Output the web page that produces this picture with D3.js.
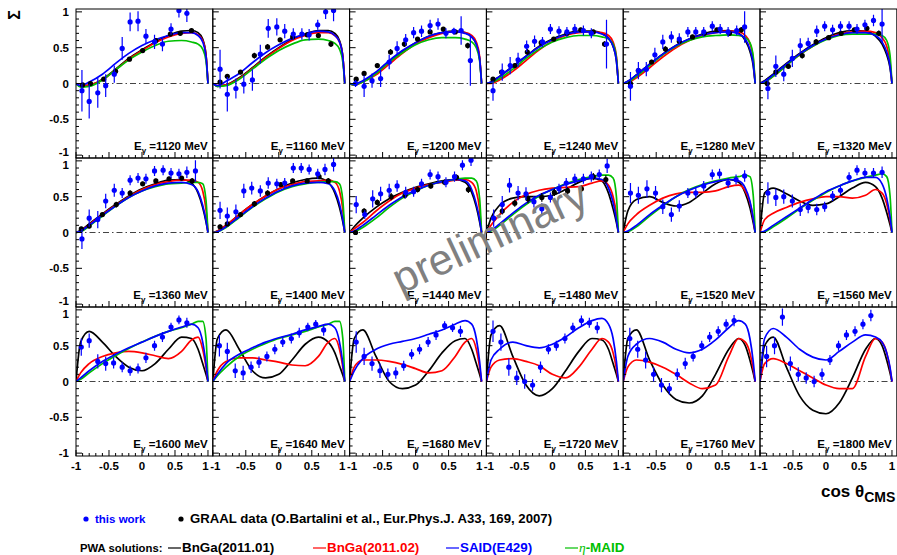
<!DOCTYPE html>
<html><head><meta charset="utf-8">
<script src="https://cdn.jsdelivr.net/npm/d3@7"></script>
<style>body{margin:0;background:#fff}svg{display:block;font-family:"Liberation Sans",Arial,sans-serif;font-weight:bold}</style>
</head><body><svg id="chart" width="897" height="555"></svg>
<script>
const energies = [1120,1160,1200,1240,1280,1320,1360,1400,1440,1480,1520,1560,1600,1640,1680,1720,1760,1800];
const curveX = [-1,-0.93,-0.8,-0.6,-0.4,-0.2,0,0.2,0.4,0.6,0.75,0.85,0.92,0.97,1];
const bnga1 = [
 [0,-0.04,-0.03,0.06,0.2,0.35,0.47,0.58,0.67,0.73,0.74,0.71,0.62,0.4,0],
 [0,-0.04,-0.02,0.08,0.22,0.37,0.5,0.61,0.69,0.74,0.74,0.7,0.6,0.38,0],
 [0,-0.02,0.03,0.14,0.3,0.45,0.57,0.66,0.71,0.73,0.71,0.65,0.55,0.35,0],
 [0,0.02,0.1,0.24,0.38,0.52,0.62,0.69,0.73,0.73,0.7,0.63,0.52,0.32,0],
 [0,0.03,0.12,0.27,0.41,0.53,0.62,0.69,0.73,0.74,0.7,0.6,0.45,0.25,0],
 [0,0.04,0.13,0.28,0.42,0.54,0.64,0.71,0.74,0.73,0.66,0.55,0.4,0.22,0],
 [0,0.03,0.12,0.26,0.39,0.51,0.61,0.68,0.73,0.74,0.69,0.55,0.35,0.15,0],
 [0,0.02,0.1,0.25,0.39,0.51,0.61,0.69,0.74,0.76,0.7,0.55,0.35,0.15,0],
 [0,0.08,0.2,0.35,0.47,0.56,0.63,0.68,0.72,0.74,0.7,0.56,0.36,0.15,0],
 [0,0.2,0.38,0.48,0.5,0.5,0.52,0.6,0.7,0.76,0.72,0.55,0.33,0.14,0],
 [0,0.3,0.46,0.5,0.42,0.37,0.42,0.55,0.68,0.74,0.7,0.55,0.35,0.14,0],
 [0,0.55,0.62,0.54,0.44,0.38,0.4,0.5,0.62,0.7,0.64,0.48,0.28,0.11,0],
 [0,0.55,0.7,0.55,0.35,0.2,0.15,0.25,0.45,0.62,0.6,0.45,0.25,0.1,0],
 [0,0.6,0.72,0.45,0.15,0.05,0.1,0.3,0.52,0.62,0.55,0.4,0.22,0.09,0],
 [0,0.6,0.72,0.35,0.0,-0.1,-0.05,0.15,0.4,0.57,0.6,0.45,0.25,0.1,0],
 [0,0.65,0.78,0.35,-0.05,-0.2,-0.1,0.15,0.42,0.6,0.58,0.45,0.25,0.1,0],
 [0,0.6,0.72,0.3,-0.05,-0.25,-0.3,-0.2,0.1,0.45,0.6,0.5,0.3,0.12,0],
 [0,0.5,0.62,0.2,-0.2,-0.4,-0.45,-0.3,0.05,0.45,0.6,0.5,0.3,0.12,0]
];
const bnga2 = [
 [0,-0.03,-0.02,0.05,0.19,0.34,0.46,0.57,0.65,0.7,0.71,0.68,0.6,0.4,0],
 [0,-0.03,-0.02,0.07,0.21,0.36,0.49,0.6,0.67,0.71,0.71,0.67,0.58,0.38,0],
 [0,-0.02,0.02,0.12,0.27,0.42,0.55,0.64,0.7,0.72,0.71,0.67,0.58,0.38,0],
 [0,0,0.05,0.17,0.32,0.47,0.59,0.67,0.71,0.72,0.71,0.67,0.58,0.38,0],
 [0,0.01,0.08,0.22,0.37,0.5,0.6,0.67,0.71,0.73,0.72,0.67,0.56,0.35,0],
 [0,0.02,0.1,0.25,0.4,0.52,0.62,0.69,0.72,0.73,0.71,0.64,0.52,0.3,0],
 [0,0.02,0.11,0.25,0.38,0.5,0.6,0.67,0.71,0.73,0.73,0.7,0.58,0.32,0],
 [0,0.02,0.1,0.25,0.39,0.51,0.61,0.67,0.71,0.72,0.73,0.7,0.58,0.32,0],
 [0,0.05,0.14,0.3,0.44,0.55,0.62,0.67,0.7,0.73,0.74,0.7,0.58,0.32,0],
 [0,0.1,0.25,0.42,0.53,0.59,0.62,0.63,0.64,0.69,0.72,0.66,0.5,0.26,0],
 [0,0.12,0.25,0.38,0.48,0.54,0.56,0.56,0.58,0.64,0.66,0.58,0.42,0.2,0],
 [0,0.18,0.27,0.35,0.42,0.47,0.5,0.5,0.48,0.52,0.6,0.55,0.4,0.18,0],
 [0,0.12,0.25,0.35,0.4,0.42,0.4,0.36,0.32,0.42,0.58,0.62,0.45,0.2,0],
 [0,0.15,0.28,0.33,0.33,0.3,0.27,0.23,0.22,0.35,0.55,0.6,0.45,0.2,0],
 [0,0.2,0.3,0.3,0.28,0.24,0.18,0.12,0.15,0.35,0.55,0.6,0.45,0.2,0],
 [0,0.2,0.3,0.32,0.28,0.22,0.1,0.05,0.2,0.45,0.6,0.55,0.4,0.18,0],
 [0,0.2,0.3,0.27,0.2,0.1,-0.02,-0.1,-0.05,0.35,0.6,0.55,0.4,0.18,0],
 [0,0.25,0.32,0.25,0.15,0.05,-0.05,-0.1,-0.1,0.35,0.6,0.55,0.4,0.18,0]
];
const said = [
 [0,-0.03,0.02,0.13,0.28,0.42,0.53,0.61,0.67,0.71,0.71,0.67,0.58,0.38,0],
 [0,-0.03,0.03,0.14,0.29,0.43,0.54,0.63,0.69,0.73,0.72,0.67,0.58,0.37,0],
 [0,-0.01,0.04,0.16,0.32,0.46,0.57,0.66,0.71,0.72,0.7,0.65,0.55,0.35,0],
 [0,0.02,0.1,0.24,0.38,0.51,0.61,0.68,0.72,0.72,0.69,0.63,0.52,0.32,0],
 [0,0.03,0.12,0.27,0.41,0.53,0.62,0.68,0.71,0.72,0.69,0.62,0.48,0.28,0],
 [0,0.03,0.12,0.27,0.41,0.53,0.62,0.68,0.71,0.71,0.67,0.58,0.44,0.25,0],
 [0,0.02,0.1,0.24,0.37,0.49,0.58,0.65,0.69,0.7,0.67,0.57,0.38,0.17,0],
 [0,0.01,0.08,0.22,0.36,0.48,0.58,0.65,0.69,0.7,0.68,0.58,0.4,0.18,0],
 [0,0.02,0.1,0.24,0.38,0.5,0.59,0.66,0.71,0.74,0.72,0.6,0.4,0.18,0],
 [0,0.03,0.12,0.27,0.41,0.52,0.6,0.67,0.72,0.76,0.74,0.62,0.42,0.18,0],
 [0,0.02,0.1,0.25,0.38,0.5,0.59,0.66,0.71,0.74,0.72,0.62,0.44,0.2,0],
 [0,0.02,0.1,0.22,0.34,0.46,0.57,0.65,0.72,0.77,0.77,0.68,0.48,0.22,0],
 [0,0.05,0.15,0.28,0.38,0.47,0.55,0.63,0.7,0.76,0.8,0.75,0.55,0.25,0],
 [0,0.1,0.25,0.38,0.47,0.55,0.61,0.66,0.72,0.77,0.8,0.75,0.55,0.25,0],
 [0,0.15,0.32,0.45,0.52,0.56,0.6,0.66,0.72,0.8,0.85,0.8,0.6,0.28,0],
 [0,0.3,0.45,0.55,0.5,0.47,0.52,0.62,0.75,0.85,0.88,0.8,0.6,0.28,0],
 [0,0.35,0.52,0.6,0.55,0.45,0.4,0.45,0.58,0.75,0.85,0.8,0.6,0.28,0],
 [0,0.6,0.74,0.62,0.45,0.34,0.3,0.42,0.55,0.65,0.62,0.55,0.4,0.2,0]
];
const maid = [
 [0,-0.05,-0.04,0.05,0.19,0.33,0.44,0.53,0.59,0.6,0.58,0.55,0.48,0.32,0],
 [0,-0.04,-0.03,0.06,0.2,0.34,0.46,0.55,0.61,0.62,0.6,0.56,0.48,0.3,0],
 [0,-0.02,0.02,0.14,0.3,0.43,0.54,0.61,0.64,0.64,0.62,0.58,0.5,0.32,0],
 [0,0.01,0.07,0.2,0.35,0.48,0.58,0.64,0.67,0.67,0.65,0.62,0.55,0.36,0],
 [0,0.02,0.1,0.25,0.4,0.52,0.6,0.65,0.67,0.68,0.67,0.64,0.57,0.38,0],
 [0,0.02,0.1,0.25,0.4,0.52,0.61,0.67,0.69,0.69,0.69,0.67,0.6,0.4,0],
 [0,0.01,0.09,0.23,0.37,0.49,0.58,0.64,0.68,0.69,0.7,0.7,0.68,0.45,0],
 [0,0.01,0.07,0.21,0.35,0.47,0.57,0.64,0.68,0.7,0.71,0.71,0.68,0.45,0],
 [0,0.01,0.07,0.2,0.35,0.48,0.58,0.66,0.71,0.74,0.76,0.76,0.72,0.48,0],
 [0,0.02,0.1,0.25,0.39,0.51,0.6,0.68,0.74,0.78,0.8,0.8,0.76,0.5,0],
 [0,0.01,0.08,0.23,0.37,0.5,0.6,0.67,0.72,0.76,0.78,0.8,0.78,0.52,0],
 [0,0.01,0.08,0.2,0.33,0.45,0.56,0.65,0.72,0.77,0.8,0.82,0.78,0.52,0],
 [0,0.03,0.12,0.25,0.36,0.46,0.55,0.63,0.7,0.75,0.8,0.84,0.84,0.6,0],
 [0,0.08,0.2,0.35,0.45,0.53,0.6,0.65,0.7,0.76,0.8,0.84,0.84,0.6,0],
 null, null, null, null
];
const thisWork = [
 [[-0.91,-0.1,0.29],[-0.8,-0.25,0.24],[-0.67,-0.13,0.21],[-0.55,-0.03,0.16],[-0.42,0.13,0.12],[-0.3,0.49,0.16],[-0.18,0.86,0.13],[-0.06,0.87,0.14],[0.06,0.66,0.1],[0.19,0.58,0.1],[0.31,0.55,0.1],[0.44,0.76,0.08],[0.56,1.02,0.1],[0.68,0.98,0.12]],
 [[-0.89,0.2,0.27],[-0.78,-0.15,0.24],[-0.65,-0.07,0.14],[-0.53,-0.01,0.13],[-0.4,0.05,0.15],[-0.28,0.41,0.13],[-0.16,0.77,0.13],[-0.03,0.79,0.12],[0.09,0.73,0.1],[0.22,0.69,0.08],[0.35,0.69,0.08],[0.46,0.68,0.08],[0.59,0.82,0.07],[0.71,1.0,0.1],[0.83,1.02,0.15]],
 [[-0.91,0.0,0.05],[-0.78,-0.04,0.15],[-0.66,0.04,0.1],[-0.53,0.07,0.12],[-0.4,0.3,0.1],[-0.28,0.49,0.1],[-0.15,0.61,0.08],[-0.03,0.71,0.08],[0.09,0.73,0.08],[0.22,0.81,0.08],[0.34,0.83,0.08],[0.46,0.7,0.07],[0.58,0.73,0.05],[0.69,0.74,0.2],[0.83,0.32,0.35]],
 [[-0.9,-0.1,0.14],[-0.76,0.16,0.12],[-0.64,0.25,0.12],[-0.52,0.33,0.1],[-0.39,0.52,0.08],[-0.27,0.59,0.08],[-0.15,0.58,0.07],[-0.03,0.76,0.07],[0.1,0.73,0.07],[0.22,0.72,0.07],[0.34,0.76,0.07],[0.47,0.74,0.07],[0.59,0.7,0.07],[0.82,0.55,0.34]],
 [[-0.89,-0.04,0.2],[-0.77,0.18,0.12],[-0.65,0.2,0.1],[-0.52,0.4,0.1],[-0.4,0.58,0.1],[-0.27,0.65,0.08],[-0.15,0.62,0.08],[-0.02,0.72,0.07],[0.1,0.72,0.07],[0.22,0.72,0.07],[0.35,0.8,0.07],[0.47,0.76,0.07],[0.59,0.72,0.07],[0.72,0.74,0.07],[0.84,0.79,0.22]],
 [[-0.88,-0.07,0.15],[-0.76,0.24,0.15],[-0.64,0.13,0.1],[-0.51,0.35,0.12],[-0.39,0.53,0.1],[-0.27,0.56,0.08],[-0.14,0.73,0.08],[-0.02,0.8,0.07],[0.1,0.75,0.07],[0.22,0.8,0.07],[0.35,0.8,0.07],[0.47,0.76,0.07],[0.59,0.82,0.07],[0.72,0.88,0.08],[0.85,0.83,0.25]],
 [[-0.91,-0.09,0.14],[-0.8,0.2,0.12],[-0.67,0.18,0.12],[-0.55,0.44,0.1],[-0.42,0.59,0.09],[-0.3,0.55,0.07],[-0.18,0.73,0.07],[-0.06,0.76,0.07],[0.06,0.75,0.07],[0.19,0.86,0.07],[0.32,0.87,0.07],[0.44,0.83,0.07],[0.56,0.82,0.07],[0.68,0.84,0.08],[0.81,0.86,0.15]],
 [[-0.89,0.31,0.12],[-0.78,0.23,0.12],[-0.65,0.29,0.1],[-0.53,0.58,0.1],[-0.41,0.62,0.09],[-0.28,0.58,0.08],[-0.16,0.69,0.08],[-0.03,0.68,0.07],[0.09,0.69,0.07],[0.22,0.9,0.07],[0.34,0.9,0.07],[0.46,0.88,0.07],[0.59,0.82,0.07],[0.7,0.88,0.08],[0.83,0.95,0.1]],
 [[-0.9,0.39,0.12],[-0.77,0.25,0.06],[-0.65,0.47,0.12],[-0.53,0.54,0.1],[-0.4,0.59,0.09],[-0.28,0.65,0.08],[-0.15,0.56,0.08],[-0.03,0.57,0.07],[0.09,0.68,0.07],[0.22,0.81,0.07],[0.34,0.78,0.07],[0.46,0.7,0.07],[0.59,0.78,0.07],[0.71,0.94,0.07],[0.84,1.01,0.08]],
 [[-0.89,0.2,0.12],[-0.76,0.39,0.12],[-0.65,0.66,0.1],[-0.52,0.55,0.1],[-0.4,0.54,0.09],[-0.28,0.43,0.08],[-0.16,0.33,0.08],[-0.03,0.49,0.07],[0.1,0.61,0.07],[0.21,0.69,0.07],[0.34,0.75,0.07],[0.47,0.75,0.07],[0.59,0.78,0.07],[0.71,0.81,0.07],[0.83,0.93,0.1]],
 [[-0.89,0.55,0.14],[-0.77,0.52,0.12],[-0.64,0.61,0.12],[-0.51,0.55,0.1],[-0.4,0.36,0.1],[-0.27,0.25,0.1],[-0.15,0.37,0.08],[-0.02,0.55,0.07],[0.1,0.55,0.07],[0.22,0.65,0.07],[0.35,0.81,0.07],[0.46,0.82,0.07],[0.59,0.69,0.07],[0.71,0.74,0.07],[0.84,0.79,0.08]],
 [[-0.88,0.55,0.15],[-0.76,0.49,0.12],[-0.64,0.5,0.1],[-0.51,0.44,0.09],[-0.39,0.32,0.09],[-0.27,0.35,0.08],[-0.14,0.32,0.08],[-0.02,0.36,0.07],[0.1,0.51,0.07],[0.22,0.59,0.07],[0.35,0.77,0.07],[0.47,0.87,0.07],[0.59,0.83,0.07],[0.72,0.83,0.07],[0.85,0.84,0.08]],
 [[-0.92,0.48,0.12],[-0.8,0.57,0.1],[-0.67,0.28,0.1],[-0.55,0.25,0.1],[-0.43,0.26,0.08],[-0.3,0.2,0.07],[-0.18,0.15,0.07],[-0.06,0.18,0.07],[0.06,0.33,0.07],[0.19,0.5,0.07],[0.31,0.62,0.07],[0.44,0.76,0.06],[0.56,0.86,0.06],[0.68,0.82,0.07]],
 [[-0.9,0.5,0.15],[-0.78,0.42,0.12],[-0.66,0.15,0.1],[-0.54,0.12,0.1],[-0.42,0.2,0.08],[-0.3,0.27,0.08],[-0.18,0.35,0.07],[-0.06,0.45,0.07],[0.06,0.55,0.07],[0.19,0.6,0.07],[0.31,0.68,0.07],[0.44,0.76,0.06],[0.56,0.8,0.06],[0.68,0.72,0.08]],
 [[-0.9,0.55,0.15],[-0.78,0.35,0.12],[-0.66,0.25,0.1],[-0.54,0.15,0.1],[-0.42,0.1,0.08],[-0.3,0.12,0.08],[-0.18,0.22,0.07],[-0.06,0.38,0.07],[0.06,0.45,0.07],[0.19,0.55,0.07],[0.31,0.65,0.07],[0.44,0.78,0.06],[0.56,0.75,0.06],[0.68,0.7,0.08]],
 [[-0.9,0.7,0.15],[-0.78,0.55,0.12],[-0.66,0.2,0.12],[-0.54,0.05,0.1],[-0.42,0.0,0.1],[-0.3,-0.05,0.08],[-0.18,0.2,0.08],[-0.06,0.45,0.07],[0.06,0.5,0.07],[0.19,0.6,0.07],[0.31,0.75,0.07],[0.44,0.85,0.07],[0.56,0.82,0.07],[0.68,0.75,0.08]],
 [[-0.9,0.6,0.15],[-0.78,0.45,0.12],[-0.66,0.3,0.12],[-0.54,0.1,0.1],[-0.42,-0.05,0.1],[-0.3,-0.1,0.08],[-0.18,0.1,0.08],[-0.06,0.25,0.08],[0.06,0.35,0.07],[0.19,0.5,0.07],[0.31,0.62,0.07],[0.44,0.7,0.07],[0.56,0.8,0.07],[0.68,0.85,0.08]],
 [[-0.9,0.35,0.15],[-0.78,0.5,0.12],[-0.66,0.9,0.12],[-0.54,0.25,0.1],[-0.42,0.1,0.1],[-0.3,0.05,0.08],[-0.18,0.0,0.08],[-0.06,0.1,0.08],[0.06,0.3,0.07],[0.19,0.5,0.07],[0.31,0.65,0.07],[0.44,0.7,0.07],[0.56,0.8,0.07],[0.68,0.92,0.08]]
];
const graal = [
 [[-0.9,-0.02,0.03],[-0.78,0.0,0.03],[-0.58,0.06,0.03],[-0.4,0.17,0.03],[-0.19,0.34,0.03],[0.01,0.46,0.03],[0.21,0.6,0.03],[0.43,0.69,0.03],[0.58,0.7,0.03],[0.75,0.74,0.03]],
 [[-0.89,0.02,0.03],[-0.78,0.1,0.03],[-0.58,0.16,0.03],[-0.37,0.39,0.04],[-0.17,0.51,0.04],[0.02,0.61,0.03],[0.21,0.65,0.03],[0.43,0.68,0.03],[0.6,0.67,0.03],[0.79,0.55,0.04]],
 [[-0.9,0.06,0.03],[-0.78,0.14,0.03],[-0.58,0.25,0.03],[-0.38,0.44,0.04],[-0.17,0.55,0.04],[0.03,0.62,0.03],[0.22,0.72,0.03],[0.42,0.76,0.03],[0.6,0.72,0.03],[0.79,0.53,0.04]],
 [[-0.9,0.06,0.03],[-0.77,0.16,0.03],[-0.57,0.25,0.03],[-0.38,0.44,0.04],[-0.17,0.57,0.04],[0.02,0.62,0.03],[0.22,0.7,0.03],[0.43,0.75,0.03],[0.62,0.72,0.03],[0.79,0.55,0.04]],
 [[-0.89,0.0,0.03],[-0.77,0.18,0.03],[-0.57,0.3,0.03],[-0.36,0.48,0.04],[-0.15,0.59,0.04],[0.05,0.65,0.03],[0.23,0.7,0.03],[0.42,0.75,0.03],[0.61,0.7,0.03],[0.79,0.75,0.04]],
 [[-0.89,0.0,0.03],[-0.76,0.16,0.03],[-0.57,0.24,0.03],[-0.36,0.39,0.04],[-0.15,0.58,0.04],[0.04,0.64,0.03],[0.23,0.7,0.03],[0.43,0.75,0.03],[0.62,0.77,0.03],[0.8,0.7,0.04]],
 [[-0.92,0.05,0.03],[-0.8,0.09,0.03],[-0.6,0.25,0.03],[-0.39,0.39,0.04],[-0.18,0.55,0.04],[0.01,0.68,0.03],[0.21,0.72,0.03],[0.41,0.75,0.03],[0.6,0.76,0.03],[0.76,0.72,0.04]],
 [[-0.89,0.08,0.03],[-0.78,0.12,0.03],[-0.58,0.25,0.03],[-0.37,0.4,0.04],[-0.17,0.55,0.04],[0.03,0.67,0.03],[0.21,0.72,0.03],[0.43,0.72,0.03],[0.61,0.78,0.03],[0.75,0.72,0.04]],
 [[-0.91,0.0,0.03],[-0.78,0.3,0.04],[-0.58,0.42,0.04],[-0.37,0.5,0.05],[-0.16,0.52,0.05],[0.03,0.6,0.04],[0.23,0.65,0.04],[0.44,0.7,0.04],[0.62,0.77,0.04],[0.8,0.6,0.05]],
 [[-0.76,0.3,0.05],[-0.57,0.41,0.05],[-0.37,0.47,0.06],[-0.16,0.49,0.06],[0.03,0.56,0.05],[0.23,0.58,0.05],[0.44,0.61,0.05],[0.62,0.78,0.05],[0.81,0.74,0.06]],
 [],[],[],[],[],[],[],[]
];
const yTicks = [1,0.5,0,-0.5,-1];
const yTickLabels = ["1","0.5","0","-0.5","-1"];
const xTicks = [-1,-0.5,0,0.5,1];
const xTickLabels = ["-1","-0.5","0","0.5","1"];

const svg = d3.select("#chart");
const L0 = 76, PW = 136.8, T0 = 9, PH = 149;
const curveDefs = [
  {data: bnga1, color: "#000000"},
  {data: bnga2, color: "#ff0000"},
  {data: maid, color: "#00c000"},
  {data: said, color: "#0000ff"}
];

energies.forEach((E, i) => {
  const col = i % 6, row = Math.floor(i / 6);
  const L = L0 + col * PW, T = T0 + row * PH;
  const x = d3.scaleLinear().domain([-1, 1.073]).range([L, L + PW]);
  const y = d3.scaleLinear().domain([-1.04, 1.04]).range([T + PH, T]);
  const g = svg.append("g");
  const cid = "clip" + i;
  svg.append("clipPath").attr("id", cid).append("rect")
    .attr("x", L).attr("y", T).attr("width", PW).attr("height", PH);
  const inner = g.append("g").attr("clip-path", `url(#${cid})`);

  inner.append("line").attr("x1", x(-1)).attr("x2", x(1)).attr("y1", y(0)).attr("y2", y(0))
    .attr("stroke", "#444").attr("stroke-width", 1.1).attr("stroke-dasharray", "6,3,1.5,3");

  const line = d3.line().x((d, k) => x(curveX[k])).y(d => y(d)).curve(d3.curveMonotoneX);
  curveDefs.forEach(c => {
    const arr = c.data[i];
    if (!arr) return;
    inner.append("path").attr("d", line(arr)).attr("fill", "none")
      .attr("stroke", c.color).attr("stroke-width", 1.7);
  });

  const drawPts = (pts, color) => {
    const pg = inner.append("g");
    pg.selectAll("line").data(pts).join("line")
      .attr("x1", d => x(d[0])).attr("x2", d => x(d[0]))
      .attr("y1", d => y(d[1] - d[2])).attr("y2", d => y(d[1] + d[2]))
      .attr("stroke", color).attr("stroke-width", 1.2);
    pg.selectAll("circle").data(pts).join("circle")
      .attr("cx", d => x(d[0])).attr("cy", d => y(d[1])).attr("r", 2.6).attr("fill", color);
  };
  drawPts(graal[i], "#000");
  drawPts(thisWork[i], "#0000ff");

  g.append("rect").attr("x", L).attr("y", T).attr("width", PW).attr("height", PH)
    .attr("fill", "none").attr("stroke", "#000").attr("stroke-width", 1);

  const tg = g.append("g").attr("stroke", "#000").attr("stroke-width", 1);
  for (let k = -10; k <= 10; k++) {
    const v = k / 10, major = (k % 5 === 0);
    tg.append("line").attr("x1", L).attr("x2", L + (major ? 6 : 3)).attr("y1", y(v)).attr("y2", y(v));
    tg.append("line").attr("y1", T + PH).attr("y2", T + PH - (major ? 6 : 3)).attr("x1", x(v)).attr("x2", x(v));
  }

  const t = g.append("text").attr("x", L + PW - 5).attr("y", T + PH - 8)
    .attr("text-anchor", "end").attr("font-size", 11.5).attr("fill", "#000");
  t.append("tspan").text("E");
  t.append("tspan").attr("dy", 3).attr("font-size", 8).text("γ");
  t.append("tspan").attr("dy", -3).text(" =" + E + " MeV");

  if (col === 0) {
    yTicks.forEach((v, k) => {
      let dy = 4;
      if (k === 4 && row < 2) dy = 1;
      if (k === 0 && row > 0) dy = 8;
      g.append("text").attr("x", 69).attr("y", y(v) + dy).attr("text-anchor", "end")
        .attr("font-size", 11.5).text(yTickLabels[k]);
    });
  }
  if (row === 2) {
    xTicks.forEach((v, k) => {
      let dx = 0;
      if (k === 4 && col < 5) dx = -2.5;
      if (k === 0 && col > 0) dx = 2.5;
      g.append("text").attr("x", x(v) + dx).attr("y", T + PH + 14).attr("text-anchor", "middle")
        .attr("font-size", 11.5).text(xTickLabels[k]);
    });
  }
});

svg.append("text").attr("transform", "translate(20,15) rotate(-90)").attr("text-anchor", "middle")
  .attr("font-size", 16).text("Σ");

const xt = svg.append("text").attr("x", 821).attr("y", 497).attr("font-size", 17);
xt.append("tspan").text("cos θ");
xt.append("tspan").attr("dy", 5).attr("font-size", 14).text("CMS");

svg.append("text").attr("transform", "translate(496,250) rotate(-25)").attr("text-anchor", "middle")
  .attr("font-size", 43).attr("font-weight", "normal").attr("fill", "#808080").text("preliminary");

svg.append("circle").attr("cx", 86).attr("cy", 519).attr("r", 2.6).attr("fill", "#0000ff");
svg.append("text").attr("x", 95).attr("y", 523).attr("font-size", 11.5).attr("fill", "#0000ff").text("this work");
svg.append("circle").attr("cx", 181).attr("cy", 519).attr("r", 2.6).attr("fill", "#000");
svg.append("text").attr("x", 190).attr("y", 523).attr("font-size", 13.2).attr("fill", "#000")
  .text("GRAAL data (O.Bartalini et al., Eur.Phys.J. A33, 169, 2007)");

svg.append("text").attr("x", 80).attr("y", 552).attr("font-size", 11.3).text("PWA solutions:");
const legItems = [
  {x: 168, label: "BnGa(2011.01)", color: "#000000"},
  {x: 313, label: "BnGa(2011.02)", color: "#ff0000"},
  {x: 446, label: "SAID(E429)", color: "#0000ff"},
  {x: 565, label: null, color: "#00c000"}
];
legItems.forEach(d => {
  svg.append("line").attr("x1", d.x).attr("x2", d.x + 13).attr("y1", 548).attr("y2", 548)
    .attr("stroke", d.color).attr("stroke-width", 1.2);
  const tt = svg.append("text").attr("x", d.x + 14).attr("y", 552).attr("font-size", 13.4).attr("fill", d.color);
  if (d.label) tt.text(d.label);
  else {
    tt.append("tspan").attr("font-style", "italic").attr("font-weight", "normal").attr("font-family", "Liberation Serif, serif").text("η");
    tt.append("tspan").text("-MAID");
  }
});
</script></body></html>
